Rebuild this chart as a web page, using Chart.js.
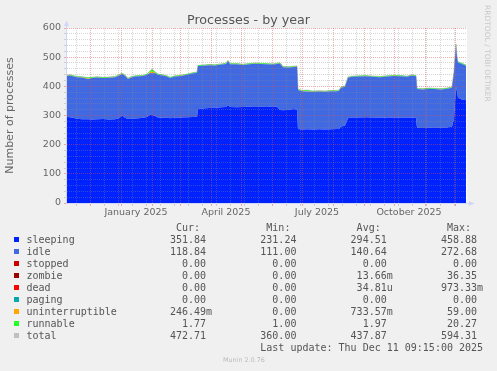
<!DOCTYPE html>
<html lang="en">
<head>
<meta charset="UTF-8">
<title>Processes - by year</title>
<script src="https://cdn.jsdelivr.net/npm/chart.js@4"></script>
<style>
  html, body { margin: 0; padding: 0; background: #f0f0f0; }
  #wrap { position: relative; width: 497px; height: 371px; overflow: hidden; }
  canvas { position: absolute; left: 0; top: 0; }
  .t { position: absolute; white-space: pre; }
  #title { left: 0; width: 497px; top: 11.6px; text-align: center; font: 12.7px 'DejaVu Sans'; line-height: 16px; color: #555; }
  #wm { left: 482.5px; top: 5px; writing-mode: vertical-rl; font: 7.5px 'DejaVu Sans'; line-height: 9px; color: #c8c8c8; }
  .lg { font: 10px 'DejaVu Sans Mono'; line-height: 12px; color: #555; }
  .box { position: absolute; width: 5px; height: 5px; }
  #foot { left: 223px; top: 356.1px; font: 6.4px 'DejaVu Sans'; line-height: 8px; color: #bbb; }
</style>
</head>
<body>
<div id="wrap">
  <canvas id="c" width="497" height="371"></canvas>
  <div class="t" id="title">Processes - by year</div>
  <div class="t" id="wm">RRDTOOL / TOBI OETIKER</div>
  <div id="legend"></div>
  <div class="t" id="foot">Munin 2.0.76</div>
</div>
<script>
// x = days since 8 Nov 2024 (left edge of the 400 day window)
const days = [0,3,6,10,15,21,25,30,36,42,48,52,55,58,61,64,68,72,76,80,
  83,85,88,91,96,100,103,108,114,120,126,130,131,136,142,148,154,159,161,163,
  170,176,182,188,194,200,206,210,213,216,222,227,230,231,235,240,246,252,258,264,
  270,272,274,278,281,285,292,299,306,313,320,327,334,340,345,349,350,356,362,368,
  374,380,385,387,389,390,391,395,399];

const sleeping = [295,294,292,289,287,287,286,287,288,286,287,291,300,292,288,289,290,291,292,295,
  303,302,298,293,292,293,291,292,293,294,295,296,322,324,326,327,328,329,336,329,
  328,329,330,329,330,329,331,330,319,318,320,322,320,254,252,253,252,253,252,253,
  254,254,262,266,291,293,293,294,293,292,293,293,292,293,292,292,258,257,258,259,
  258,259,262,290,400,380,362,355,352];

const idle = [140.5,143.5,142.5,142.5,143.5,138,142.5,143.5,140.5,143.5,144.5,146.5,142.5,144.5,137.5,141.5,143.5,143.5,143.5,144.5,
  143,143,148,146.5,145.5,140.5,137.5,141.5,142.5,145.5,149.5,150.5,147.5,146.5,146.5,144.5,146.5,147.5,150.5,146.5,
  147.5,144.5,145.5,148.5,146.5,146.5,143.5,146.5,159.5,147.5,144.5,144.5,147.5,133.5,131.5,129.5,129.5,129.5,129.5,130.5,
  129.5,130.5,133.5,132.5,138.5,139.5,140.5,140.5,139.5,139.5,140.5,142.5,142.5,139.5,145.5,142.5,132.5,132.5,133.5,131.5,
  131.5,132.5,133.5,157.5,139,116.5,119.5,121.5,118.5];

const stopped = [0,0,0,0,0,0,0,0,0,0,0,0,0,0,0,0,0,0,0,0,0,0,0,0,0,0,0,0,0,0,0,0,0,0,0,0,0,0,0,0,0,0,0,0,0,
  0,0,0,0,0,0,0,0,0,0,0,0,0,0,0,0,0,0,0,0,0,0,0,0,0,0,0,0,0,0,0,0,0,0,0,0,0,0,0,0,0,0,0,0];
const zombie = [0,0,0,0,0,0,0,0,0,0,0,0,0,0,0,0,0,0,0,0,0,0,0,0,0,0,0,0,0,0,0,0,0,0,0,0,0,0,0,0,0,0,0,0,0,
  0,0,0,0,0,0,0,0,0,0,0,0,0,0,0,0,0,0,0,0,0,0,0,0,0,0,0,0,0,0,0,0,0,0,0,0,0,0,0,0,0,0,0,0];
const dead = [0,0,0,0,0,0,0,0,0,0,0,0,0,0,0,0,0,0,0,0,0,0,0,0,0,0,0,0,0,0,0,0,0,0,0,0,0,0,0,0,0,0,0,0,0,
  0,0,0,0,0,0,0,0,0,0,0,0,0,0,0,0,0,0,0,0,0,0,0,0,0,0,0,0,0,0,0,0,0,0,0,0,0,0,0,0,0,0,0,0];
const paging = [0,0,0,0,0,0,0,0,0,0,0,0,0,0,0,0,0,0,0,0,0,0,0,0,0,0,0,0,0,0,0,0,0,0,0,0,0,0,0,0,0,0,0,0,0,
  0,0,0,0,0,0,0,0,0,0,0,0,0,0,0,0,0,0,0,0,0,0,0,0,0,0,0,0,0,0,0,0,0,0,0,0,0,0,0,0,0,0,0,0];

const uninterruptible = [0.5,0.5,0.5,0.5,0.5,3,0.5,0.5,0.5,0.5,0.5,0.5,0.5,0.5,0.5,0.5,0.5,0.5,0.5,0.5,
  2,6,1,0.5,0.5,0.5,0.5,0.5,0.5,0.5,0.5,0.5,0.5,0.5,0.5,0.5,0.5,0.5,0.5,0.5,
  0.5,0.5,0.5,0.5,0.5,0.5,0.5,0.5,0.5,0.5,0.5,0.5,0.5,0.5,0.5,0.5,0.5,0.5,0.5,0.5,
  0.5,0.5,0.5,0.5,0.5,0.5,0.5,0.5,0.5,0.5,0.5,0.5,0.5,0.5,0.5,0.5,0.5,0.5,0.5,0.5,
  0.5,0.5,0.5,0.5,1,0.5,0.5,0.5,0.5];

const runnable = [2,2,2,2,2,2,2,2,2,2,2,2,2,2,2,2,2,2,2,2,
  4,8,3,2,2,2,2,2,2,2,2,2,2,2,2,2,2,2,2,2,
  2,2,2,2,2,2,2,2,2,2,2,2,2,2,2,4,2,2,2,2,
  2,2,2,2,2,2,2,2,2,2,2,2,2,2,2,2,2,2,2,2,
  2,2,2,2,5,3,2,2,2];

const total = [438,440,437,434,433,430,431,433,431,432,434,440,445,439,428,433,436,437,438,442,
  452,459,450,442,440,436,431,436,438,442,447,449,472,473,475,474,477,479,489,478,
  478,476,478,480,479,478,477,479,481,468,467,469,470,390,386,387,384,385,384,386,
  386,387,398,401,432,435,436,437,435,434,436,438,437,435,440,437,393,392,394,393,
  392,394,398,450,545,500,484,479,473];

// x axis: month starts (red grid), label positions (month start + 15 days)
const monthStarts = [23,54,85,113,144,174,205,235,266,297,327,358,388];
const labelDays = [69,159,250,342];
const monthLabels = ['January 2025','April 2025','July 2025','October 2025'];

// legend table
const legendNames = ['sleeping','idle','stopped','zombie','dead','paging','uninterruptible','runnable','total'];
const curVals = ['351.84 ','118.84 ','  0.00 ','  0.00 ','  0.00 ','  0.00 ','246.49m','  1.77 ','472.71 '];
const minVals = ['231.24 ','111.00 ','  0.00 ','  0.00 ','  0.00 ','  0.00 ','  0.00 ','  1.00 ','360.00 '];
const avgVals = ['294.51 ','140.64 ','  0.00 ',' 13.66m',' 34.81u','  0.00 ','733.57m','  1.97 ','437.87 '];
const maxVals = ['458.88 ','272.68 ','  0.00 ',' 36.35 ','973.33m','  0.00 ',' 59.00 ',' 20.27 ','594.31 '];

const colors = ['#0022ff','#4169e1','#cc0000','#990000','#ff0000','#00aaaa','#ffa500','#22ff22','#c0c0c0'];
const GRID = 'rgba(140,140,140,0.35)';
const MGRID = 'rgba(224,80,80,0.45)';
const FONT = '#666';

// minor grid every two weeks (Sundays)
const minorDays = [];
for (let d = 9; d < 400; d += 14) minorDays.push(d);
const xTickDays = [...new Set([...minorDays, ...monthStarts, ...labelDays])].sort((a, b) => a - b);

function xKind(v) {
  if (monthStarts.includes(v)) return 'major';
  if (labelDays.includes(v)) return 'label';
  return 'minor';
}
function xGridColor(c) {
  if (!c.tick) return GRID;
  const k = xKind(c.tick.value);
  return k === 'major' ? MGRID : (k === 'minor' ? GRID : 'rgba(0,0,0,0)');
}
function yGridColor(c) {
  if (!c.tick) return GRID;
  return c.tick.value % 100 === 0 ? MGRID : GRID;
}

const pts = vals => days.map((d, i) => ({ x: d, y: vals[i] }));
const stackVals = [sleeping, idle, stopped, zombie, dead, paging, uninterruptible, runnable];

const datasets = stackVals.map((vals, i) => ({
  label: legendNames[i],
  data: pts(vals),
  stack: 'procs',
  backgroundColor: colors[i],
  borderWidth: 0,
  pointRadius: 0,
  fill: i === 0 ? 'origin' : '-1'
}));
datasets.push({
  label: 'total',
  data: pts(total),
  stack: 'total',
  borderColor: colors[8],
  borderWidth: 1,
  pointRadius: 0,
  fill: false
});

// white plot area + rrdtool style axis arrows
const plotBg = {
  id: 'plotBg',
  beforeDraw(chart) {
    const { ctx, chartArea: a } = chart;
    ctx.save();
    ctx.fillStyle = '#ffffff';
    ctx.fillRect(a.left, a.top, a.right - a.left, a.bottom - a.top);
    ctx.restore();
  },
  afterDraw(chart) {
    const { ctx, chartArea: a } = chart;
    ctx.save();
    ctx.strokeStyle = '#cfd6f8';
    ctx.fillStyle = '#cfd6f8';
    ctx.lineWidth = 1;
    ctx.beginPath();
    ctx.moveTo(a.left - 0.5, a.bottom + 0.5);
    ctx.lineTo(a.left - 0.5, a.top - 4);
    ctx.moveTo(a.left - 0.5, a.bottom + 0.5);
    ctx.lineTo(a.right + 4, a.bottom + 0.5);
    ctx.stroke();
    ctx.beginPath();
    ctx.moveTo(a.left - 3, a.top - 2);
    ctx.lineTo(a.left + 2, a.top - 2);
    ctx.lineTo(a.left - 0.5, a.top - 7.5);
    ctx.closePath();
    ctx.fill();
    ctx.beginPath();
    ctx.moveTo(a.right + 2, a.bottom - 2);
    ctx.lineTo(a.right + 2, a.bottom + 3);
    ctx.lineTo(a.right + 7.5, a.bottom + 0.5);
    ctx.closePath();
    ctx.fill();
    ctx.restore();
  }
};

new Chart(document.getElementById('c'), {
  type: 'line',
  data: { datasets },
  plugins: [plotBg],
  options: {
    responsive: false,
    animation: false,
    devicePixelRatio: 1,
    layout: { padding: { left: 0, top: 28, right: 30, bottom: 0 } },
    plugins: { legend: { display: false }, tooltip: { enabled: false } },
    elements: { line: { tension: 0 } },
    scales: {
      x: {
        type: 'linear',
        min: 0,
        max: 400,
        afterFit: s => { s.height = 168; },
        afterBuildTicks: s => { s.ticks = xTickDays.map(v => ({ value: v })); },
        grid: { z: 1, color: xGridColor, tickColor: xGridColor, tickLength: 3, lineWidth: 1, borderDash: [1, 1] },
        border: { display: false, dash: [1, 1] },
        ticks: {
          autoSkip: false,
          maxRotation: 0,
          padding: 1,
          color: FONT,
          font: { family: 'DejaVu Sans', size: 9.5 },
          callback: v => {
            const i = labelDays.indexOf(v);
            return i >= 0 ? monthLabels[i] : '';
          }
        }
      },
      y: {
        stacked: true,
        min: 0,
        max: 600,
        afterFit: s => { s.width = 67; },
        grid: { z: 1, color: yGridColor, tickColor: yGridColor, tickLength: 3, lineWidth: 1, borderDash: [1, 1] },
        border: { display: false, dash: [1, 1] },
        ticks: {
          stepSize: 20,
          autoSkip: false,
          padding: 3,
          color: FONT,
          font: { family: 'DejaVu Sans', size: 9.5 },
          callback: v => (v % 100 === 0 ? v : '')
        },
        title: {
          display: true,
          text: 'Number of processes',
          color: FONT,
          font: { family: 'DejaVu Sans', size: 11 },
          padding: { top: 4, bottom: 0 }
        }
      }
    }
  }
});

// legend rows under the plot
const legend = document.getElementById('legend');
const colX = [170, 260.3, 350.6, 440.9];
function addText(txt, x, y) {
  const el = document.createElement('div');
  el.className = 't lg';
  el.style.left = x + 'px';
  el.style.top = y + 'px';
  el.textContent = txt;
  legend.appendChild(el);
}
[' Cur:', ' Min:', ' Avg:', ' Max:'].forEach((h, j) => addText(h, colX[j], 221.9));
legendNames.forEach((name, i) => {
  const top = 233.9 + 12 * i;
  const box = document.createElement('div');
  box.className = 'box';
  box.style.left = '14px';
  box.style.top = (top + 3.4) + 'px';
  box.style.background = colors[i];
  legend.appendChild(box);
  addText(name, 26.5, top);
  addText(curVals[i], colX[0], top);
  addText(minVals[i], colX[1], top);
  addText(avgVals[i], colX[2], top);
  addText(maxVals[i], colX[3], top);
});
addText('Last update: Thu Dec 11 09:15:00 2025', colX[1], 341.5);
</script>
</body>
</html>
